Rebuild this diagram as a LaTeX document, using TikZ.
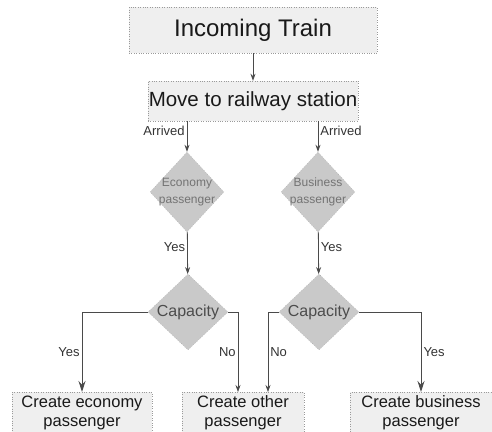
\documentclass[tikz,border=0pt]{standalone}
\usepackage{fontspec}
\setmainfont{Liberation Sans}
\usetikzlibrary{shapes.geometric,arrows.meta}
\definecolor{boxfill}{HTML}{EFEFEF}
\definecolor{decfill}{HTML}{C9C9C9}
\definecolor{edge}{HTML}{9A9A9A}
\definecolor{ink}{HTML}{4A4A4A}

\begin{document}
\begin{tikzpicture}[x=1pt, y=-1pt, >={Stealth[length=7pt,width=5pt]},
	box/.style={rectangle, draw=edge, dotted, fill=boxfill, inner sep=0pt, align=center, text=black!90},
	decide/.style={diamond, draw=edge, dotted, fill=decfill, inner sep=0pt},
	smalltext/.style={align=center, font=\fontsize{12}{17}\selectfont, text=black!55},
	captext/.style={font=\fontsize{16}{19}\selectfont, text=black!70},
	flow/.style={draw=ink, line width=0.8pt},
	big/.style={>={Stealth[length=11pt,width=7pt]}, line width=1pt},
	tag/.style={font=\fontsize{13}{15}\selectfont, text=black!80, inner sep=2pt}]
	
	\useasboundingbox (0,0) rectangle (492,431);
	
	% ==================== 1. 顶部两个流程框 ====================
	\node[box, minimum width=248pt, minimum height=46pt, font=\fontsize{24}{28}\selectfont] (train) at (253,30) {Incoming Train};
	\node[box, minimum width=210pt, minimum height=40pt, font=\fontsize{20.5}{24}\selectfont] (move) at (253,101) {Move to railway station};
	
	% ==================== 2. 判断菱形 ====================
	\node[decide, minimum width=74pt, minimum height=80pt, label={[smalltext]center:Economy\\passenger}] (eco) at (187,192) {};
	\node[decide, minimum width=74pt, minimum height=80pt, label={[smalltext]center:Business\\passenger}] (biz) at (318,192) {};
	\node[decide, minimum width=80pt, minimum height=76pt, label={[captext]center:Capacity}] (capE) at (188,312) {};
	\node[decide, minimum width=80pt, minimum height=76pt, label={[captext]center:Capacity}] (capB) at (319,312) {};
	
	% ==================== 3. 底部结果框（下边超出页面） ====================
	\node[box, anchor=north, minimum width=140pt, minimum height=42pt, font=\fontsize{16.5}{19}\selectfont] (ecoPax) at (82,392) {Create economy\\passenger};
	\node[box, anchor=north, minimum width=122pt, minimum height=42pt, font=\fontsize{16.5}{19}\selectfont] (other) at (243,392) {Create other\\passenger};
	\node[box, anchor=north, minimum width=142pt, minimum height=42pt, font=\fontsize{16.5}{19}\selectfont] (bizPax) at (421,392) {Create business\\passenger};
	
	% ==================== 4. 连线 ====================
	\draw[flow,->] (train) -- (move);
	\draw[flow,->] (move.south -| eco.north) -- node[tag, left, pos=0.3] {Arrived} (eco.north);
	\draw[flow,->] (move.south -| biz.north) -- node[tag, right, pos=0.3] {Arrived} (biz.north);
	\draw[flow,->] (eco) -- node[tag, left, pos=0.35] {Yes} (capE);
	\draw[flow,->] (biz) -- node[tag, right, pos=0.35] {Yes} (capB);
	
	\draw[flow,big,->] (capE.west) -| node[tag, left, pos=0.75] {Yes} (ecoPax.north);
	\draw[flow,->,line width=0.6pt] (capE.east) -| node[tag, left, pos=0.75] {No} ([xshift=-5pt]other.north);
	\draw[flow,->,line width=0.6pt] (capB.west) -| node[tag, right, pos=0.75] {No} ([xshift=25pt]other.north);
	\draw[flow,big,->] (capB.east) -| node[tag, right, pos=0.75] {Yes} (bizPax.north);
	
\end{tikzpicture}
\end{document}
